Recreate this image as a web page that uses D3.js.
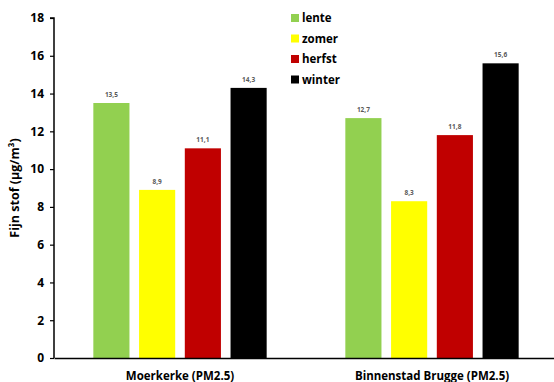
<!DOCTYPE html>
<html><head><meta charset="utf-8">
<script src="https://cdn.jsdelivr.net/npm/d3@7"></script>
<style>body{margin:0;background:#fff}svg{display:block}text{font-family:"Open Sans","Liberation Sans",sans-serif}</style>
</head><body><svg id="c" width="554" height="382"></svg>
<script>
const categories = ["Moerkerke (PM2.5)", "Binnenstad Brugge (PM2.5)"];
const seasons = ["lente", "zomer", "herfst", "winter"];
const colors = ["#92D050", "#FFFF00", "#C00000", "#000000"];
const values = {
  lente: [13.5, 12.7],
  zomer: [8.9, 8.3],
  herfst: [11.1, 11.8],
  winter: [14.3, 15.6]
};
const yTicks = [0, 2, 4, 6, 8, 10, 12, 14, 16, 18];

const svg = d3.select("#c");
const mLeft = 54, mRight = 558, mTop = 18, mBottom = 358;
const x0 = d3.scaleBand().domain(categories).range([mLeft, mRight]);
const x1 = d3.scaleBand().domain(seasons).range([0, x0.bandwidth()]).paddingInner(0.21).paddingOuter(0.86);
const y = d3.scaleLinear().domain([0, 18]).range([mBottom, mTop]);
const color = d3.scaleOrdinal().domain(seasons).range(colors);

// bars
categories.forEach((c, ci) => {
  const g = svg.append("g").attr("transform", `translate(${x0(c)},0)`);
  seasons.forEach(s => {
    const v = values[s][ci];
    g.append("rect").attr("x", x1(s)).attr("y", y(v)).attr("width", x1.bandwidth()).attr("height", y(0) - y(v)).attr("fill", color(s));
    g.append("text").attr("x", x1(s) + x1.bandwidth() / 2).attr("y", y(v) - 6)
      .attr("text-anchor", "middle").attr("font-size", 6.5).attr("font-weight", "bold").attr("fill", "#595959")
      .text(d3.format(".1f")(v).replace(".", ","));
  });
});

// y axis
const ya = svg.append("g").attr("transform", `translate(${mLeft},0)`)
  .call(d3.axisLeft(y).tickValues(yTicks).tickSize(4).tickPadding(6));
ya.select(".domain").attr("stroke", "#000").attr("stroke-width", 1.5).attr("d", `M-4,${mTop}H0V${mBottom}`);
ya.selectAll(".tick line").attr("stroke", "#000").attr("stroke-width", 1.2);
ya.selectAll(".tick text").attr("font-size", 12).attr("font-weight", "bold").attr("fill", "#000")
  .style("font-family", "'Open Sans',sans-serif");

// x axis
const xa = svg.append("g").attr("transform", `translate(0,${mBottom})`)
  .call(d3.axisBottom(x0).tickSize(0).tickPadding(14));
xa.select(".domain").attr("stroke", "#000").attr("stroke-width", 1.5);
xa.selectAll(".tick text").attr("font-size", 11.5).attr("font-weight", "bold").attr("fill", "#000")
  .style("font-family", "'Open Sans',sans-serif");

// y title
svg.append("text").attr("transform", `translate(19,${(mTop + mBottom) / 2}) rotate(-90)`)
  .attr("text-anchor", "middle").attr("font-size", 12.5).attr("font-weight", "bold").attr("fill", "#000")
  .text("Fijn stof (µg/m³)");

// legend
const lg = svg.append("g").attr("transform", "translate(291,18)");
seasons.forEach((s, i) => {
  const row = lg.append("g").attr("transform", `translate(0,${i * 20.5})`);
  row.append("rect").attr("x", 0).attr("y", -4).attr("width", 8).attr("height", 8).attr("fill", color(s));
  row.append("text").attr("x", 11).attr("y", 4).attr("font-size", 11.5).attr("font-weight", "bold").attr("fill", "#000").text(s);
});
</script></body></html>
